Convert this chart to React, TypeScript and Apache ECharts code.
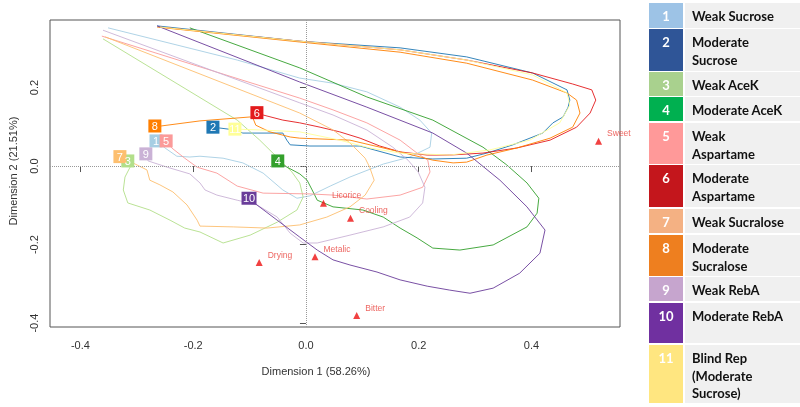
import React, { useEffect, useRef } from 'react';
import * as echarts from 'echarts';

// ---- Data ----
const sampleIds = ['1', '2', '3', '4', '5', '6', '7', '8', '9', '10', '11'];
const sampleNames = [
  ['Weak Sucrose'],
  ['Moderate', 'Sucrose'],
  ['Weak AceK'],
  ['Moderate AceK'],
  ['Weak', 'Aspartame'],
  ['Moderate', 'Aspartame'],
  ['Weak Sucralose'],
  ['Moderate', 'Sucralose'],
  ['Weak RebA'],
  ['Moderate RebA'],
  ['Blind Rep', '(Moderate', 'Sucrose)'],
];
const sampleX = [-0.266, -0.165, -0.316, -0.05, -0.248, -0.087, -0.33, -0.268, -0.284, -0.101, -0.126];
const sampleY = [0.064, 0.099, 0.013, 0.013, 0.064, 0.136, 0.024, 0.102, 0.031, -0.082, 0.094];

const attributeNames = ['Sweet', 'Licorice', 'Cooling', 'Metalic', 'Drying', 'Bitter'];
const attributeX = [0.519, 0.031, 0.079, 0.016, -0.083, 0.09];
const attributeY = [0.063, -0.095, -0.133, -0.231, -0.246, -0.381];

const contour1 = [[-0.266,0.064],[-0.25,0.046],[-0.229,0.025],[-0.206,0.023],[-0.188,0.025],[-0.147,0.02],[-0.112,0.008],[-0.076,-0.018],[-0.041,-0.061],[-0.016,-0.082],[0.007,-0.076],[0.043,-0.051],[0.078,-0.028],[0.137,0.005],[0.184,0.023],[0.22,0.048],[0.223,0.084],[0.202,0.117],[0.167,0.15],[0.108,0.189],[0.048,0.211],[-0.011,0.224],[-0.122,0.27],[-0.351,0.352]];
const contour2 = [[-0.165,0.099],[-0.126,0.092],[-0.112,0.084],[-0.041,0.084],[-0.034,0.066],[-0.028,0.054],[0.007,0.051],[0.096,0.051],[0.167,0.023],[0.225,0.018],[0.285,0.02],[0.321,0.033],[0.367,0.054],[0.42,0.084],[0.438,0.11],[0.456,0.125],[0.465,0.15],[0.468,0.168],[0.463,0.194],[0.402,0.237],[0.285,0.278],[0.167,0.301],[-0.011,0.318],[-0.264,0.357]];
const contour3 = [[-0.316,0.013],[-0.312,-0.003],[-0.321,-0.028],[-0.324,-0.061],[-0.316,-0.094],[-0.277,-0.112],[-0.241,-0.138],[-0.215,-0.158],[-0.188,-0.168],[-0.147,-0.196],[-0.099,-0.176],[-0.051,-0.143],[-0.016,-0.112],[-0.005,-0.079],[-0.011,-0.043],[-0.025,-0.015],[-0.041,0.008],[-0.082,0.066],[-0.122,0.117],[-0.36,0.324]];
const contour4 = [[-0.05,0.013],[-0.041,0.003],[-0.011,-0.02],[0.002,-0.036],[0.011,-0.061],[0.02,-0.087],[0.048,-0.104],[0.101,-0.112],[0.137,-0.13],[0.167,-0.158],[0.197,-0.183],[0.225,-0.209],[0.273,-0.214],[0.332,-0.201],[0.392,-0.155],[0.41,-0.12],[0.413,-0.082],[0.392,-0.043],[0.356,0.003],[0.314,0.048],[0.225,0.117],[0.108,0.176],[-0.011,0.25],[-0.206,0.352]];
const contour5 = [[-0.248,0.064],[-0.238,0.046],[-0.215,0.02],[-0.193,-0.003],[-0.158,-0.018],[-0.122,-0.051],[-0.076,-0.069],[0.007,-0.071],[0.048,-0.074],[0.108,-0.084],[0.167,-0.074],[0.207,-0.054],[0.22,-0.015],[0.216,0.015],[0.197,0.033],[0.167,0.066],[0.108,0.11],[0.048,0.143],[-0.011,0.173],[-0.362,0.331]];
const contour6 = [[-0.087,0.136],[-0.076,0.13],[-0.041,0.117],[-0.011,0.11],[0.025,0.099],[0.06,0.087],[0.096,0.071],[0.131,0.051],[0.167,0.036],[0.215,0.028],[0.255,0.028],[0.314,0.033],[0.374,0.046],[0.433,0.066],[0.48,0.099],[0.504,0.135],[0.514,0.168],[0.507,0.194],[0.473,0.209],[0.402,0.237],[0.285,0.27],[0.167,0.296],[-0.011,0.318],[-0.259,0.354]];
const contour7 = [[-0.33,0.024],[-0.307,0.008],[-0.282,-0.01],[-0.277,-0.036],[-0.259,-0.048],[-0.236,-0.066],[-0.211,-0.099],[-0.193,-0.138],[-0.188,-0.153],[-0.129,-0.155],[-0.069,-0.158],[-0.011,-0.15],[0.037,-0.13],[0.078,-0.104],[0.105,-0.074],[0.121,-0.036],[0.113,-0.003],[0.105,0.02],[0.078,0.059],[0.048,0.092],[-0.011,0.135],[-0.356,0.329]];
const contour8 = [[-0.268,0.102],[-0.257,0.102],[-0.188,0.115],[-0.099,0.125],[-0.094,0.122],[-0.089,0.104],[-0.064,0.087],[-0.028,0.074],[-0.011,0.071],[0.078,0.066],[0.167,0.036],[0.225,0.015],[0.261,0.008],[0.285,0.01],[0.321,0.028],[0.374,0.046],[0.433,0.071],[0.473,0.099],[0.486,0.135],[0.48,0.168],[0.463,0.186],[0.402,0.219],[0.285,0.262],[0.167,0.29],[-0.011,0.316],[-0.264,0.354]];
const contour9 = [[-0.284,0.031],[-0.28,0.013],[-0.246,-0.003],[-0.206,-0.02],[-0.188,-0.043],[-0.179,-0.061],[-0.158,-0.074],[-0.122,-0.087],[-0.087,-0.099],[-0.051,-0.13],[-0.028,-0.171],[-0.005,-0.196],[0.02,-0.196],[0.078,-0.176],[0.137,-0.155],[0.184,-0.13],[0.207,-0.094],[0.211,-0.054],[0.199,-0.015],[0.181,0.015],[0.154,0.048],[0.108,0.092],[0.048,0.13],[-0.011,0.161],[-0.36,0.346]];
const contour10 = [[-0.101,-0.082],[-0.087,-0.099],[-0.051,-0.138],[-0.011,-0.181],[0.02,-0.214],[0.048,-0.239],[0.078,-0.252],[0.126,-0.27],[0.167,-0.29],[0.215,-0.306],[0.255,-0.316],[0.291,-0.324],[0.332,-0.311],[0.379,-0.273],[0.415,-0.222],[0.424,-0.163],[0.392,-0.104],[0.344,-0.036],[0.285,0.033],[0.225,0.084],[0.108,0.15],[-0.011,0.214],[-0.264,0.357]];
const contour11 = [[-0.126,0.094],[-0.082,0.092],[-0.011,0.087],[0.06,0.066],[0.113,0.046],[0.167,0.033],[0.255,0.028],[0.326,0.041],[0.397,0.066],[0.45,0.11],[0.468,0.155],[0.463,0.186],[0.402,0.232],[0.285,0.27],[0.167,0.296],[-0.011,0.318],[-0.259,0.354]];
const contours = [contour1, contour2, contour3, contour4, contour5, contour6, contour7, contour8, contour9, contour10, contour11];

const xTicks = [-0.4, -0.2, 0, 0.2, 0.4];
const yTicks = [-0.4, -0.2, 0, 0.2];

// ---- Styles ----
const plotColors = ['#A6CEE3', '#1F78B4', '#B2DF8A', '#33A02C', '#FB9A99', '#E31A1C', '#FDBF6F', '#FF7F00', '#CAB2D6', '#6A3D9A', '#FFFF99'];
const tableColors = ['#9DC3E6', '#2F5597', '#A9D18E', '#00B050', '#FF9999', '#C4161C', '#F4B183', '#EE7F1F', '#C6A5CE', '#7030A0', '#FFE680'];
const rowTops = [3, 29, 72, 97, 123, 165, 209, 235, 277, 303, 345];
const rowHeights = [25, 42, 24, 24, 41, 42, 24, 41, 24, 40, 58];

export default function App() {
  const ref = useRef<HTMLDivElement>(null);
  useEffect(() => {
    if (!ref.current) return;
    const chart = echarts.init(ref.current, undefined, { renderer: 'svg' });
    const font = 'Liberation Sans, Arial, sans-serif';

    const lineSeries = contours.map((c, i) => ({
      type: 'line',
      data: c,
      showSymbol: false,
      symbol: 'none',
      lineStyle: { color: plotColors[i], width: 1, opacity: 0.9 },
      z: 2,
      silent: true,
    }));

    const legendEls: any[] = [];
    sampleIds.forEach((id, i) => {
      const top = rowTops[i];
      const h = rowHeights[i];
      legendEls.push({ type: 'rect', shape: { x: 649, y: top, width: 34, height: h }, style: { fill: tableColors[i] } });
      legendEls.push({ type: 'rect', shape: { x: 685, y: top, width: 115, height: h }, style: { fill: '#F0F0F0' } });
      legendEls.push({
        type: 'text', x: 666, y: top + 13,
        style: { text: id, fill: '#ffffff', font: 'bold 13px Lato, sans-serif', align: 'center', verticalAlign: 'middle' },
      });
      sampleNames[i].forEach((ln, k) => {
        legendEls.push({
          type: 'text', x: 692, y: top + 13 + k * 17.5,
          style: { text: ln, fill: '#111111', font: 'bold 13px Lato, sans-serif', align: 'left', verticalAlign: 'middle' },
        });
      });
    });

    chart.setOption({
      animation: false,
      grid: { left: 50, right: 180, top: 20, bottom: 80, show: true, borderColor: '#555', borderWidth: 1, backgroundColor: 'transparent', outerBoundsMode: 'none' },
      xAxis: {
        type: 'value', min: -0.454, max: 0.557,
        axisLine: { show: false },
        splitLine: { show: false },
        axisTick: { show: true, length: 6, customValues: xTicks, lineStyle: { color: '#555' } },
        axisLabel: { customValues: xTicks, margin: 12, fontSize: 11, color: '#333', fontFamily: font, formatter: (v: number) => v.toFixed(1) },
      },
      yAxis: {
        type: 'value', min: -0.41, max: 0.372,
        axisLine: { show: false },
        splitLine: { show: false },
        axisTick: { show: true, length: 6, customValues: yTicks, lineStyle: { color: '#555' } },
        axisLabel: { customValues: yTicks, rotate: 90, margin: 11, fontSize: 11, color: '#333', fontFamily: font, formatter: (v: number) => v.toFixed(1) },
      },
      graphic: [
        { type: 'text', x: 316, y: 371, style: { text: 'Dimension 1 (58.26%)', fill: '#333', font: '11px ' + font, align: 'center', verticalAlign: 'middle' } },
        { type: 'text', x: 13, y: 171, rotation: Math.PI / 2, style: { text: 'Dimension 2 (21.51%)', fill: '#333', font: '11px ' + font, align: 'center', verticalAlign: 'middle' } },
        ...legendEls,
      ],
      series: [
        {
          type: 'line', data: [], symbol: 'none', z: 1,
          markLine: {
            silent: true, symbol: 'none', label: { show: false },
            lineStyle: { type: 'dotted', color: '#999', width: 1 },
            data: [{ xAxis: 0 }, { yAxis: 0 }],
          },
        },
        ...lineSeries,
        {
          type: 'scatter', z: 5, silent: true,
          data: sampleIds.map((id, i) => ({
            value: [sampleX[i], sampleY[i]],
            symbolSize: id === '10' ? [15, 13] : [13, 13],
            itemStyle: { color: plotColors[i], opacity: 1 },
            label: { show: true, formatter: id, position: 'inside', color: '#fff', fontSize: 11, fontFamily: font },
          })),
          symbol: 'rect',
        },
        {
          type: 'scatter', z: 5, silent: true, symbol: 'triangle', symbolSize: 7,
          itemStyle: { color: '#EE1111' },
          data: attributeNames.map((n, i) => ({ value: [attributeX[i], attributeY[i]], name: n })),
          label: { show: true, position: 'right', distance: 5, offset: [0, -8], formatter: (p: any) => p.name, color: '#E8403A', fontSize: 8.5, fontFamily: font },
        },
      ],
    });
    return () => chart.dispose();
  }, []);
  return <div ref={ref} style={{ position: 'fixed', left: 0, top: 0, width: 800, height: 407 }} />;
}
